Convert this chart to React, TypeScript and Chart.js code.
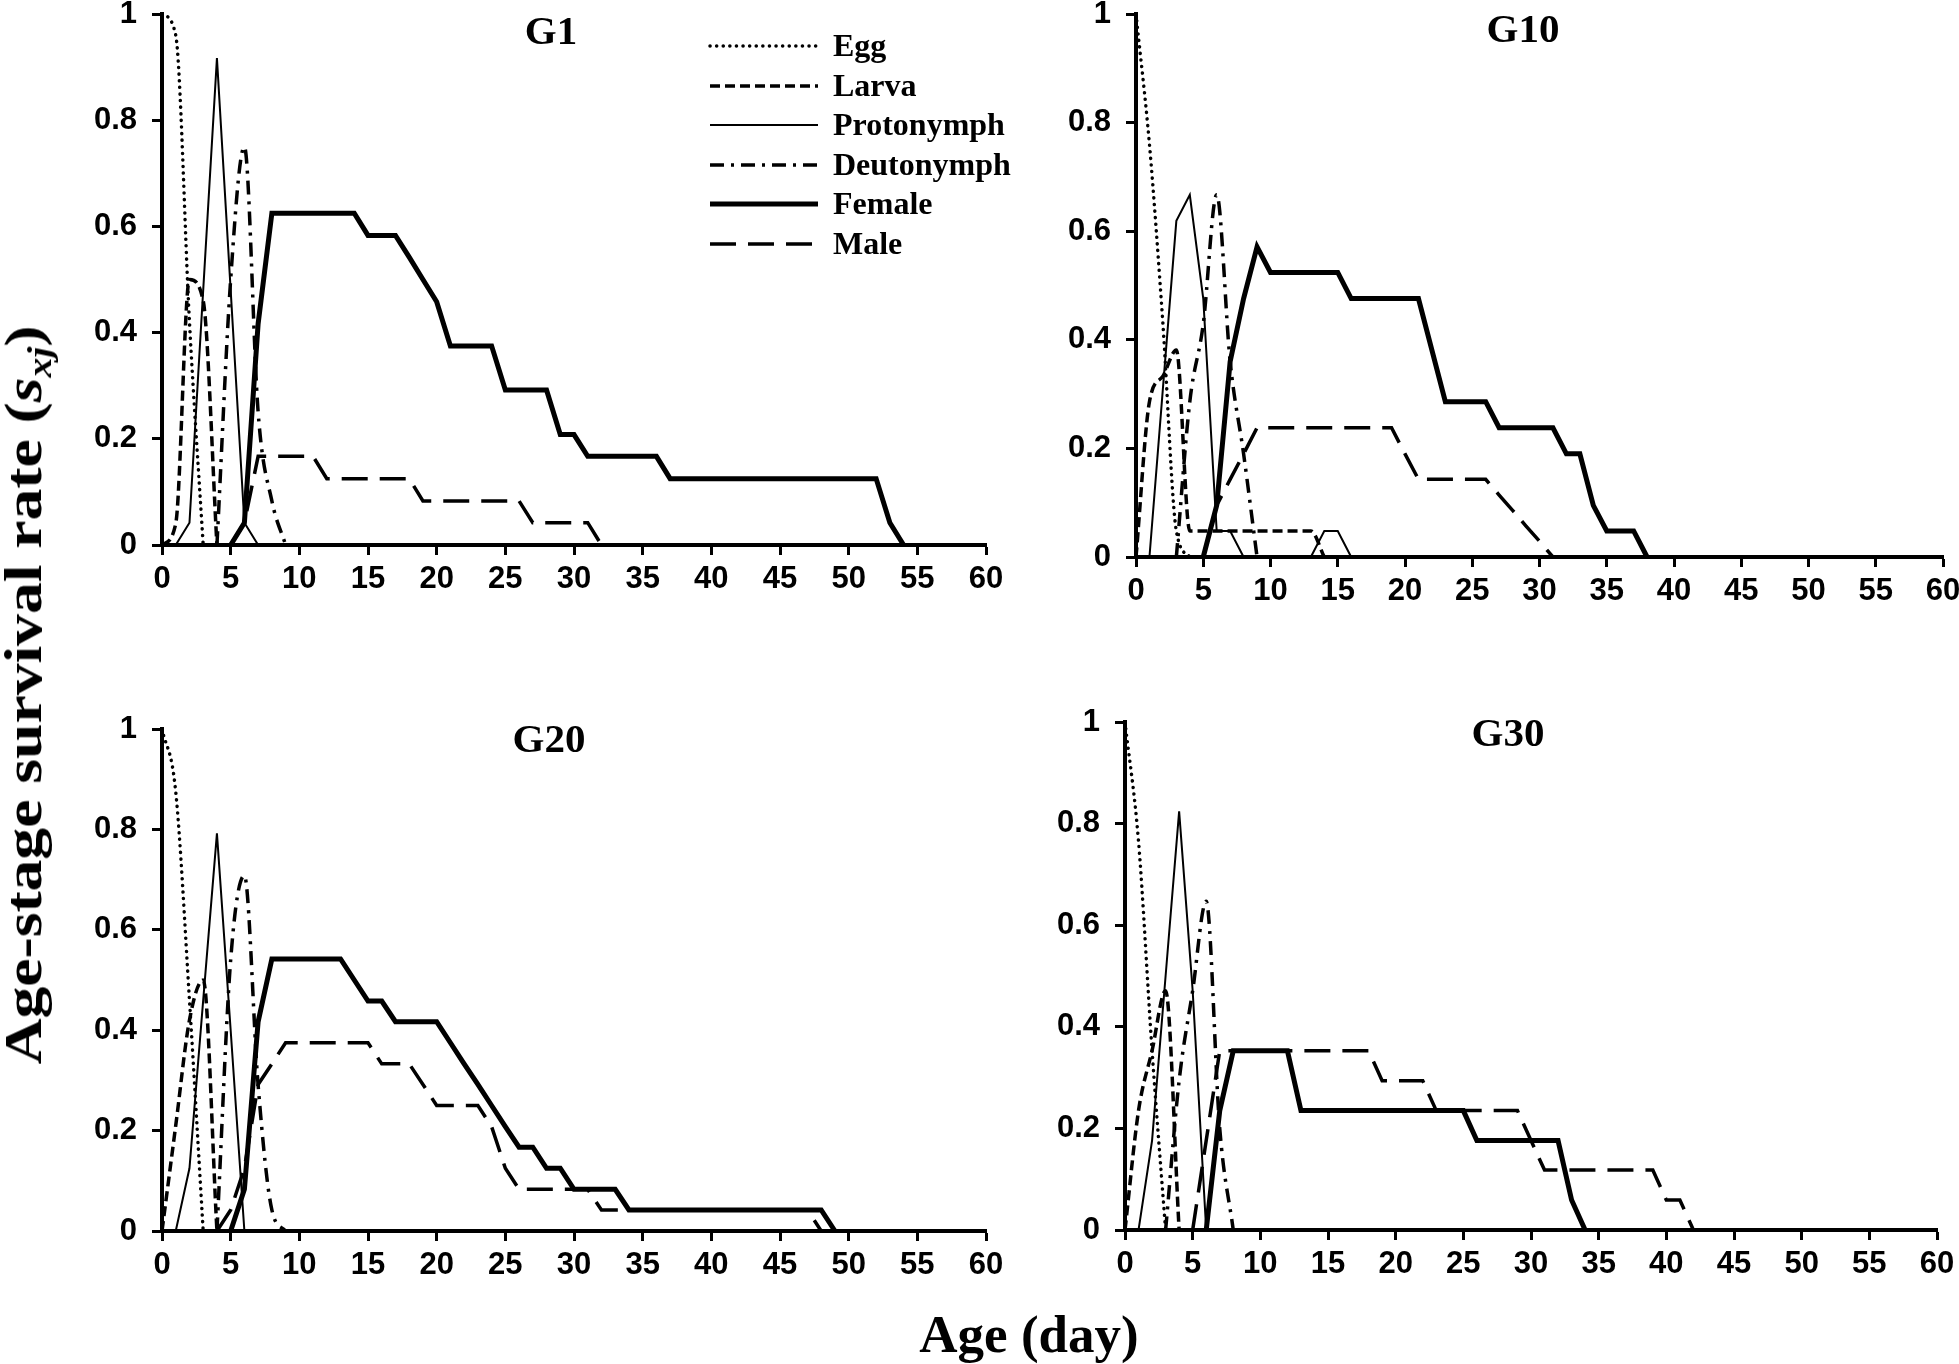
import React, { useEffect, useRef } from "react";
import { Chart, registerables } from "chart.js";
Chart.register(...registerables);

// ---------- data (index = age in days, null = stage not present) ----------
const STAGES = ["Egg", "Larva", "Protonymph", "Deutonymph", "Female", "Male"];
const X_MIN = 0;
const X_MAX = 60;
const X_STEP = 5;
const Y_MIN = 0;
const Y_MAX = 1;
const Y_STEP = 0.2;

// G1
const G1_EGG = [1, 0.96, 0.42, 0];
const G1_LARVA = [0, 0.04, 0.5, 0.46, 0];
const G1_PROTO = [0, 0, 0.042, 0.48, 0.917, 0.48, 0.042, 0];
const G1_DEUTO = [null, null, null, null, 0, 0.5, 0.75, 0.25, 0.083, 0];
const G1_FEMALE = [null, null, null, null, null, 0, 0.042, 0.417, 0.625, 0.625, 0.625, 0.625, 0.625, 0.625, 0.625, 0.583, 0.583, 0.583, 0.542, 0.5, 0.458, 0.375, 0.375, 0.375, 0.375, 0.292, 0.292, 0.292, 0.292, 0.208, 0.208, 0.167, 0.167, 0.167, 0.167, 0.167, 0.167, 0.125, 0.125, 0.125, 0.125, 0.125, 0.125, 0.125, 0.125, 0.125, 0.125, 0.125, 0.125, 0.125, 0.125, 0.125, 0.125, 0.042, 0];
const G1_MALE = [null, null, null, null, null, 0, 0.042, 0.167, 0.167, 0.167, 0.167, 0.167, 0.125, 0.125, 0.125, 0.125, 0.125, 0.125, 0.125, 0.083, 0.083, 0.083, 0.083, 0.083, 0.083, 0.083, 0.083, 0.042, 0.042, 0.042, 0.042, 0.042, 0];

// G10
const G10_EGG = [1, 0.76, 0.43, 0.048, 0];
const G10_LARVA = [0, 0.286, 0.333, 0.381, 0.048, 0.048, 0.048, 0.048, 0.048, 0.048, 0.048, 0.048, 0.048, 0.048, 0];
const G10_PROTO = [0, 0, 0.31, 0.619, 0.667, 0.476, 0.048, 0.048, 0, 0, 0, 0, 0, 0, 0.048, 0.048, 0];
const G10_DEUTO = [null, null, null, 0, 0.286, 0.429, 0.667, 0.36, 0.19, 0];
const G10_FEMALE = [null, null, null, null, null, 0, 0.095, 0.36, 0.476, 0.571, 0.524, 0.524, 0.524, 0.524, 0.524, 0.524, 0.476, 0.476, 0.476, 0.476, 0.476, 0.476, 0.381, 0.286, 0.286, 0.286, 0.286, 0.238, 0.238, 0.238, 0.238, 0.238, 0.19, 0.19, 0.095, 0.048, 0.048, 0.048, 0];
const G10_MALE = [null, null, null, null, null, 0, 0.095, 0.143, 0.19, 0.238, 0.238, 0.238, 0.238, 0.238, 0.238, 0.238, 0.238, 0.238, 0.238, 0.238, 0.19, 0.143, 0.143, 0.143, 0.143, 0.143, 0.143, 0.114, 0.086, 0.057, 0.029, 0];

// G20
const G20_EGG = [1, 0.875, 0.46, 0];
const G20_LARVA = [0, 0.21, 0.42, 0.5, 0];
const G20_PROTO = [0, 0, 0.125, 0.46, 0.792, 0.4, 0];
const G20_DEUTO = [null, null, null, null, 0, 0.54, 0.708, 0.29, 0.042, 0];
const G20_FEMALE = [null, null, null, null, null, 0, 0.083, 0.417, 0.542, 0.542, 0.542, 0.542, 0.542, 0.542, 0.5, 0.458, 0.458, 0.417, 0.417, 0.417, 0.417, 0.375, 0.333, 0.292, 0.25, 0.208, 0.167, 0.167, 0.125, 0.125, 0.083, 0.083, 0.083, 0.083, 0.042, 0.042, 0.042, 0.042, 0.042, 0.042, 0.042, 0.042, 0.042, 0.042, 0.042, 0.042, 0.042, 0.042, 0.042, 0];
const G20_MALE = [null, null, null, null, 0, 0.042, 0.125, 0.292, 0.333, 0.375, 0.375, 0.375, 0.375, 0.375, 0.375, 0.375, 0.333, 0.333, 0.333, 0.292, 0.25, 0.25, 0.25, 0.25, 0.208, 0.125, 0.083, 0.083, 0.083, 0.083, 0.083, 0.083, 0.042, 0.042, 0.042, 0.042, 0.042, 0.042, 0.042, 0.042, 0.042, 0.042, 0.042, 0.042, 0.042, 0.042, 0.042, 0.042, 0];

// G30
const G30_EGG = [1, 0.765, 0.353, 0];
const G30_LARVA = [0, 0.235, 0.353, 0.471, 0];
const G30_PROTO = [0, 0, 0.176, 0.5, 0.824, 0.471, 0];
const G30_DEUTO = [null, null, null, 0, 0.294, 0.471, 0.647, 0.2, 0];
const G30_FEMALE = [null, null, null, null, null, null, 0, 0.235, 0.353, 0.353, 0.353, 0.353, 0.353, 0.235, 0.235, 0.235, 0.235, 0.235, 0.235, 0.235, 0.235, 0.235, 0.235, 0.235, 0.235, 0.235, 0.176, 0.176, 0.176, 0.176, 0.176, 0.176, 0.176, 0.059, 0];
const G30_MALE = [null, null, null, null, null, 0, 0.176, 0.353, 0.353, 0.353, 0.353, 0.353, 0.353, 0.353, 0.353, 0.353, 0.353, 0.353, 0.353, 0.294, 0.294, 0.294, 0.294, 0.235, 0.235, 0.235, 0.235, 0.235, 0.235, 0.235, 0.176, 0.118, 0.118, 0.118, 0.118, 0.118, 0.118, 0.118, 0.118, 0.118, 0.059, 0.059, 0];

// ---------- styling ----------
const FONT_SANS = '"Liberation Sans", Arial, sans-serif';
const FONT_SERIF = '"Liberation Serif", "Times New Roman", serif';

type StageStyle = {
  borderWidth: number;
  borderDash: number[];
  borderCapStyle: CanvasLineCap;
  smooth: boolean;
};
const STAGE_STYLES: StageStyle[] = [
  { borderWidth: 3.5, borderDash: [0.1, 6.5], borderCapStyle: "round", smooth: true },
  { borderWidth: 3.5, borderDash: [10, 5], borderCapStyle: "butt", smooth: true },
  { borderWidth: 2, borderDash: [], borderCapStyle: "butt", smooth: false },
  { borderWidth: 3.5, borderDash: [14, 7, 3, 7], borderCapStyle: "butt", smooth: true },
  { borderWidth: 5, borderDash: [], borderCapStyle: "butt", smooth: false },
  { borderWidth: 3.5, borderDash: [26, 12], borderCapStyle: "butt", smooth: false },
];

type Area = { left: number; top: number; right: number; bottom: number };
type PanelDef = {
  title: string;
  series: (number | null)[][];
  area: Area;
  titleX: number;
  titleBaseline: number;
  legend: boolean;
};

const PANELS: PanelDef[] = [
  { title: "G1", series: [G1_EGG, G1_LARVA, G1_PROTO, G1_DEUTO, G1_FEMALE, G1_MALE], area: { left: 162, top: 14, right: 986, bottom: 545 }, titleX: 551, titleBaseline: 44, legend: true },
  { title: "G10", series: [G10_EGG, G10_LARVA, G10_PROTO, G10_DEUTO, G10_FEMALE, G10_MALE], area: { left: 1136, top: 14, right: 1943, bottom: 557 }, titleX: 1523, titleBaseline: 42, legend: false },
  { title: "G20", series: [G20_EGG, G20_LARVA, G20_PROTO, G20_DEUTO, G20_FEMALE, G20_MALE], area: { left: 162, top: 729, right: 986, bottom: 1231 }, titleX: 549, titleBaseline: 752, legend: false },
  { title: "G30", series: [G30_EGG, G30_LARVA, G30_PROTO, G30_DEUTO, G30_FEMALE, G30_MALE], area: { left: 1125, top: 722, right: 1937, bottom: 1230 }, titleX: 1508, titleBaseline: 746, legend: false },
];

const PAD = { left: 10, right: 30, top: 44, bottom: 4 };
const Y_AXIS_W = 110;
const X_AXIS_H = 70;

// legend geometry (page coordinates)
const LEGEND_LINE_X0 = 710;
const LEGEND_LINE_X1 = 818;
const LEGEND_TEXT_X = 833;
const LEGEND_ROW_Y = [46, 86, 125, 165, 204, 244];

const stageLegendPlugin = {
  id: "stageLegend",
  afterDraw(chart: any, _args: any, opts: any) {
    if (!opts || !opts.show) return;
    const ctx: CanvasRenderingContext2D = chart.ctx;
    const ox = opts.ox as number;
    const oy = opts.oy as number;
    chart.data.datasets.forEach((ds: any, i: number) => {
      const y = LEGEND_ROW_Y[i] - oy;
      ctx.save();
      ctx.strokeStyle = "#000";
      ctx.lineWidth = ds.borderWidth;
      ctx.lineCap = ds.borderCapStyle || "butt";
      ctx.setLineDash(ds.borderDash || []);
      ctx.beginPath();
      ctx.moveTo(LEGEND_LINE_X0 - ox, y);
      ctx.lineTo(LEGEND_LINE_X1 - ox, y);
      ctx.stroke();
      ctx.setLineDash([]);
      ctx.fillStyle = "#000";
      ctx.font = `bold 32px ${FONT_SERIF}`;
      ctx.textAlign = "left";
      ctx.textBaseline = "alphabetic";
      ctx.fillText(ds.label, LEGEND_TEXT_X - ox, y + 10);
      ctx.restore();
    });
  },
};

function toPoints(values: (number | null)[]) {
  const pts: { x: number; y: number }[] = [];
  values.forEach((v, i) => {
    if (v !== null && v !== undefined) pts.push({ x: i, y: v });
  });
  return pts;
}

function canvasBox(area: Area) {
  const left = area.left - PAD.left - Y_AXIS_W;
  const top = area.top - PAD.top;
  const width = area.right + PAD.right - left;
  const height = area.bottom + X_AXIS_H + PAD.bottom - top;
  return { left, top, width, height };
}

const tickFont = { family: FONT_SANS, size: 31, weight: "bold" as const };
const gridOpts = {
  display: true,
  drawOnChartArea: false,
  drawTicks: true,
  tickLength: 10,
  tickWidth: 3,
  tickColor: "#000",
};
const borderOpts = { display: true, color: "#000", width: 4 };

function Panel({ def }: { def: PanelDef }) {
  const ref = useRef<HTMLCanvasElement>(null);
  const box = canvasBox(def.area);
  useEffect(() => {
    const canvas = ref.current;
    if (!canvas) return;
    const datasets = def.series.map((vals, i) => {
      const st = STAGE_STYLES[i];
      return {
        label: STAGES[i],
        data: toPoints(vals),
        borderColor: "#000",
        backgroundColor: "#000",
        borderWidth: st.borderWidth,
        borderDash: st.borderDash,
        borderCapStyle: st.borderCapStyle,
        borderJoinStyle: "miter" as const,
        pointRadius: 0,
        fill: false,
        tension: st.smooth ? 0.4 : 0,
        cubicInterpolationMode: st.smooth ? ("monotone" as const) : ("default" as const),
        clip: false as const,
        spanGaps: false,
      };
    });
    const chart = new Chart(canvas, {
      type: "line",
      data: { datasets },
      options: {
        animation: false,
        responsive: false,
        maintainAspectRatio: false,
        devicePixelRatio: 1,
        layout: { padding: PAD },
        events: [],
        plugins: {
          legend: { display: false },
          tooltip: { enabled: false },
          title: { display: false },
          // @ts-ignore
          stageLegend: { show: def.legend, ox: box.left, oy: box.top },
        },
        scales: {
          x: {
            type: "linear",
            min: X_MIN,
            max: X_MAX,
            ticks: {
              stepSize: X_STEP,
              autoSkip: false,
              maxRotation: 0,
              minRotation: 0,
              padding: 6,
              color: "#000",
              font: tickFont,
            },
            grid: gridOpts,
            border: borderOpts,
            afterFit: (s: any) => {
              s.height = X_AXIS_H;
            },
          },
          y: {
            type: "linear",
            min: Y_MIN,
            max: Y_MAX,
            ticks: {
              stepSize: Y_STEP,
              padding: 15,
              color: "#000",
              font: tickFont,
              callback: (v: any) => {
                const n = Number(v);
                if (Math.abs(n) < 1e-9) return "0";
                if (Math.abs(n - 1) < 1e-9) return "1";
                return n.toFixed(1);
              },
            },
            grid: gridOpts,
            border: borderOpts,
            afterFit: (s: any) => {
              s.width = Y_AXIS_W;
            },
          },
        },
      },
      plugins: [stageLegendPlugin],
    } as any);
    return () => chart.destroy();
  }, []);
  return (
    <canvas
      ref={ref}
      width={box.width}
      height={box.height}
      style={{ position: "absolute", left: box.left, top: box.top, width: box.width, height: box.height }}
    />
  );
}

export default function App() {
  const titleSize = 41;
  return (
    <div
      style={{
        position: "absolute",
        left: 0,
        top: 0,
        width: 1959,
        height: 1364,
        overflow: "hidden",
        background: "#fff",
      }}
    >
      {PANELS.map((p) => (
        <Panel key={p.title} def={p} />
      ))}
      {PANELS.map((p) => (
        <div
          key={"t" + p.title}
          style={{
            position: "absolute",
            left: p.titleX,
            top: p.titleBaseline - 34,
            transform: "translateX(-50%)",
            font: `bold ${titleSize}px ${FONT_SERIF}`,
            lineHeight: `${titleSize}px`,
            whiteSpace: "nowrap",
            color: "#000",
          }}
        >
          {p.title}
        </div>
      ))}
      <div
        style={{
          position: "absolute",
          left: 27,
          top: 695,
          transform: "translate(-50%, -50%) rotate(-90deg) scaleX(1.2)",
          font: `bold 53px ${FONT_SERIF}`,
          lineHeight: "53px",
          whiteSpace: "nowrap",
          color: "#000",
        }}
      >
        Age-stage survival rate (<i>s</i>
        <span style={{ fontSize: "0.62em", fontStyle: "italic", position: "relative", top: "0.3em" }}>xj</span>)
      </div>
      <div
        style={{
          position: "absolute",
          left: 1029,
          top: 1308,
          transform: "translateX(-50%)",
          font: `bold 53px ${FONT_SERIF}`,
          lineHeight: "53px",
          whiteSpace: "nowrap",
          color: "#000",
        }}
      >
        Age (day)
      </div>
    </div>
  );
}
